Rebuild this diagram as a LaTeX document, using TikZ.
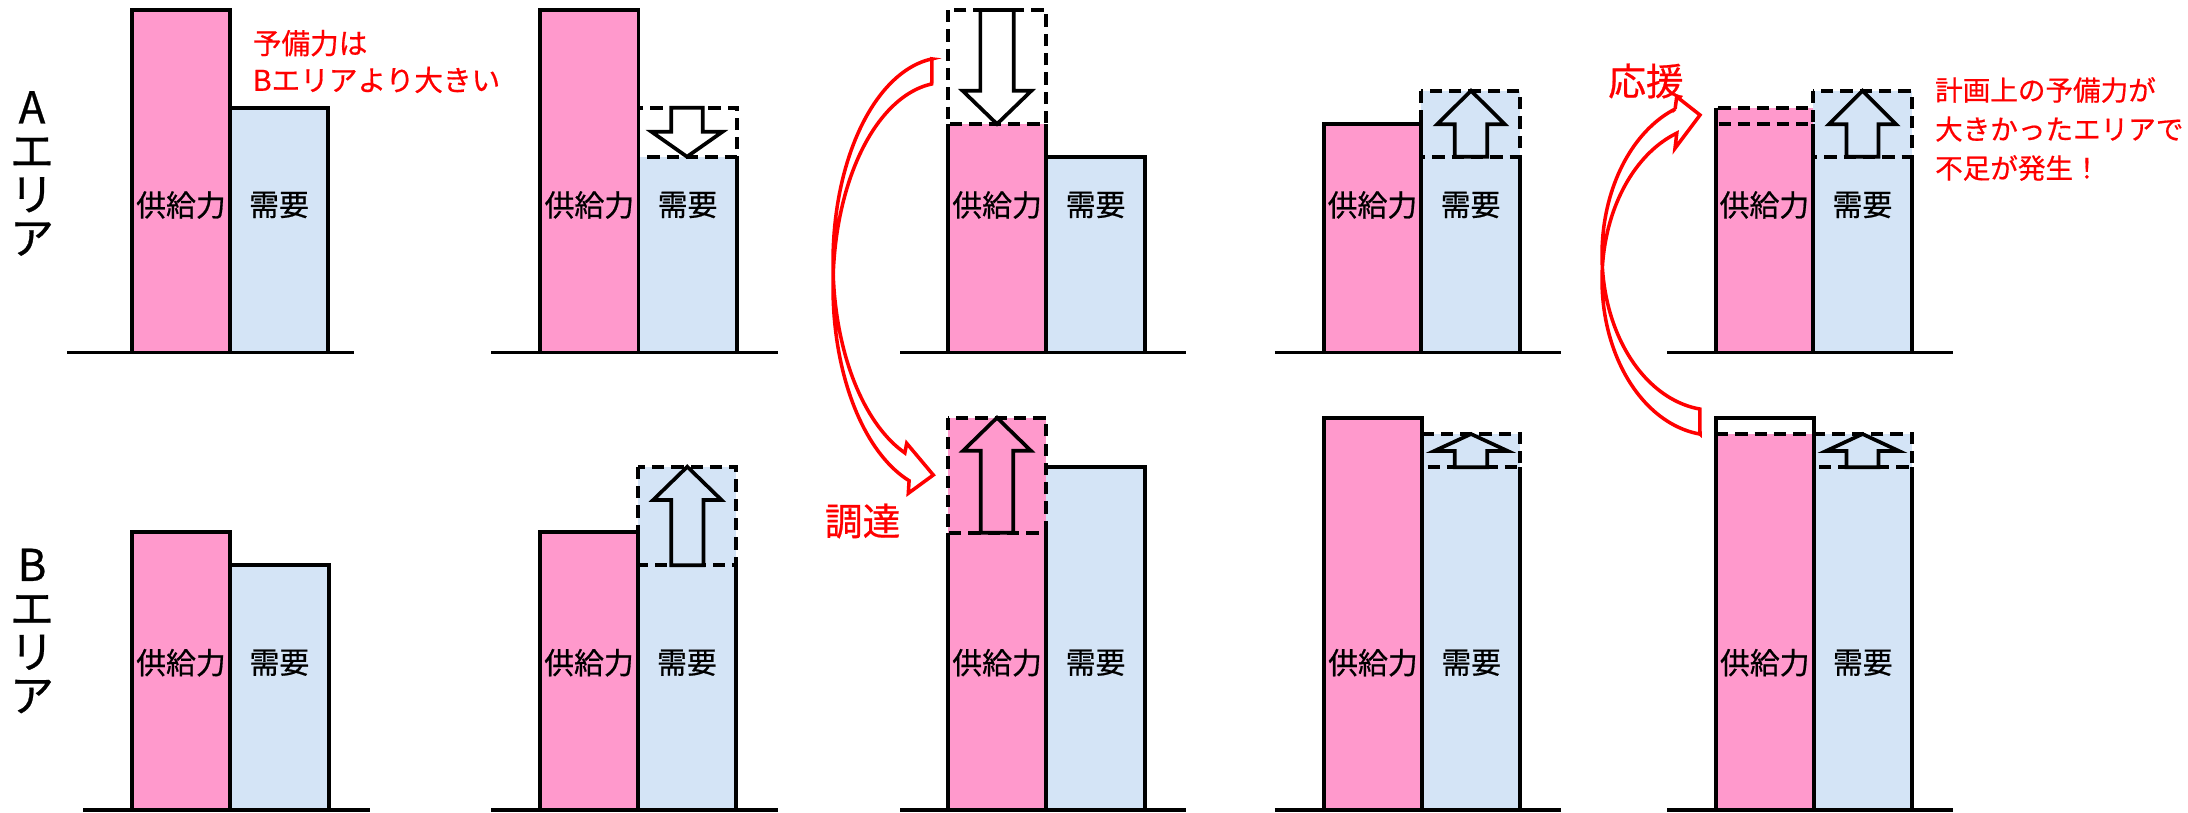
\documentclass[tikz,border=0pt]{standalone}
\usepackage{fontspec}
\newfontfamily\jp[FakeBold=0.6]{Noto Sans CJK JP}
\definecolor{pinkc}{RGB}{255,153,204}
\definecolor{bluec}{RGB}{212,228,246}
\newcommand{\blockarrow}[7]{%
  \draw[bar, fill=#1] ({#2-#3},#5) -- ({#2-#3},#6) -- ({#2-#4},#6) -- (#2,#7) -- ({#2+#4},#6) -- ({#2+#3},#6) -- ({#2+#3},#5) -- cycle;}
\tikzset{
  bar/.style={draw=black, line width=2.1pt, line join=miter},
  dbox/.style={draw=black, line width=2.1pt, dash pattern=on 7pt off 4pt},
  axisline/.style={draw=black, line width=2.1pt},
  barlbl/.style={font=\jp\fontsize{17pt}{20pt}\selectfont, inner sep=0pt},
  arealbl/.style={font=\jp\fontsize{25pt}{24.8pt}\selectfont, align=center, inner sep=0pt},
  rednote/.style={font=\jp\fontsize{16.3pt}{21pt}\selectfont, text=red, align=left, inner sep=0pt, anchor=west},
  rednoteb/.style={font=\jp\fontsize{15.7pt}{22.2pt}\selectfont, text=red, align=left, inner sep=0pt, anchor=west},
  redbig/.style={font=\jp\fontsize{21.5pt}{24pt}\selectfont, text=red, inner sep=0pt},
  redarrow/.style={draw=red, line width=2pt, line join=miter}
}
\begin{document}
\begin{tikzpicture}[x=0.02cm,y=-0.02cm]
\useasboundingbox (0,0) rectangle (2188,812);

% area labels
\node[arealbl] (areaA) at (32,173.5) {A\\エ\\リ\\ア};
\node[arealbl] (areaB) at (32,631) {B\\エ\\リ\\ア};

% ================= TOP ROW =================
% panel 1
\draw[axisline] (67,352.5) -- (353.6,352.5);
\draw[bar, fill=pinkc] (131.9,10) rectangle (230.1,352.5);
\draw[bar, fill=bluec] (230.1,107.7) rectangle (328,352.5);
\node[barlbl] (s1t) at (181,205) {供給力};
\node[barlbl] (d1t) at (279,205) {需要};
\node[rednote] (noteA) at (252.5,61.5) {予備力は\\Bエリアより大きい};

% panel 2
\draw[axisline] (491,352.5) -- (778,352.5);
\fill[bluec] (638.5,156.7) rectangle (736.8,352.5);
\draw[bar, fill=pinkc] (540.3,10) rectangle (638.5,352.5);
\draw[bar] (638.5,156.7) -- (638.5,352.5) -- (736.8,352.5) -- (736.8,156.7);
\draw[dbox] (638.5,107.7) rectangle (736.8,156.7);
\blockarrow{white}{687}{15.75}{35.6}{107.7}{131.7}{156.7}
\node[barlbl] (s2t) at (589.4,205) {供給力};
\node[barlbl] (d2t) at (687.6,205) {需要};

% panel 3
\draw[axisline] (900.3,352.5) -- (1185.8,352.5);
\fill[pinkc] (948.1,124) rectangle (1046.1,352.5);
\fill[bluec] (1046.1,156.7) rectangle (1145.2,352.5);
\draw[bar] (948.1,124) -- (948.1,352.5) -- (1046.1,352.5) -- (1046.1,124);
\draw[bar] (1046.1,156.7) rectangle (1145.2,352.5);
\draw[dbox] (948.1,10) rectangle (1046.1,124);
\blockarrow{white}{997}{16.65}{34.45}{10}{90.7}{124}
\node[barlbl] (s3t) at (997.1,205) {供給力};
\node[barlbl] (d3t) at (1095.6,205) {需要};

% panel 4
\draw[axisline] (1274.9,352.5) -- (1560.8,352.5);
\fill[bluec] (1421.1,90.7) rectangle (1520.2,352.5);
\draw[bar, fill=pinkc] (1323.9,124) rectangle (1421.1,352.5);
\draw[bar] (1421.1,156.7) -- (1421.1,352.5) -- (1520.2,352.5) -- (1520.2,156.7);
\draw[dbox] (1421.1,90.7) rectangle (1520.2,156.7);
\blockarrow{bluec}{1471}{16.3}{33.85}{156.7}{124.3}{90.7}
\node[barlbl] (s4t) at (1372.5,205) {供給力};
\node[barlbl] (d4t) at (1470.6,205) {需要};

% panel 5
\draw[axisline] (1667.2,352.5) -- (1952.7,352.5);
\fill[bluec] (1813,90.7) rectangle (1911.8,352.5);
\fill[pinkc] (1715.9,107.7) rectangle (1813,352.5);
\draw[bar] (1715.9,107.7) -- (1715.9,352.5) -- (1813,352.5) -- (1813,124.3);
\draw[bar] (1813,156.7) -- (1813,352.5) -- (1911.8,352.5) -- (1911.8,156.7);
\draw[dbox] (1715.9,107.7) rectangle (1813,124.3);
\draw[dbox] (1813,90.7) rectangle (1911.8,156.7);
\blockarrow{bluec}{1862.5}{16}{33.65}{156.7}{124.3}{90.7}
\node[barlbl] (s5t) at (1764.4,205) {供給力};
\node[barlbl] (d5t) at (1862.4,205) {需要};
\node[rednoteb] (noteB) at (1934.8,129) {計画上の予備力が\\大きかったエリアで\\不足が発生！};

% ================= BOTTOM ROW =================
% panel 1
\draw[axisline] (83.1,810) -- (370,810);
\draw[bar, fill=pinkc] (131.9,532) rectangle (230.1,810);
\draw[bar, fill=bluec] (230.1,565.3) rectangle (328.7,810);
\node[barlbl] (s1b) at (181,662.7) {供給力};
\node[barlbl] (d1b) at (279.4,662.7) {需要};

% panel 2
\draw[axisline] (491,810) -- (778,810);
\fill[bluec] (637.8,466.7) rectangle (736,810);
\draw[bar, fill=pinkc] (540.3,532) rectangle (637.8,810);
\draw[bar] (637.8,565.3) -- (637.8,810) -- (736,810) -- (736,565.3);
\draw[dbox] (637.8,466.7) rectangle (736,565.3);
\blockarrow{bluec}{687.3}{16.1}{34.2}{565.3}{500}{466.7}
\node[barlbl] (s2b) at (589,662.7) {供給力};
\node[barlbl] (d2b) at (686.9,662.7) {需要};

% panel 3
\draw[axisline] (900.3,810) -- (1185.8,810);
\fill[pinkc] (948.1,417.7) rectangle (1046.1,810);
\fill[bluec] (1046.1,467.3) rectangle (1145.2,810);
\draw[bar] (948.1,532.7) -- (948.1,810) -- (1046.1,810) -- (1046.1,532.7);
\draw[bar] (1046.1,467.3) -- (1145.2,467.3) -- (1145.2,810) -- (1046.1,810);
\draw[dbox] (948.1,417.7) rectangle (1046.1,532.7);
\blockarrow{pinkc}{997}{16.3}{33.85}{532.7}{450.7}{417.7}
\node[barlbl] (s3b) at (997.1,662.7) {供給力};
\node[barlbl] (d3b) at (1095.6,662.7) {需要};
\node[redbig] (chotatsu) at (862.6,521) {調達};

% panel 4
\draw[axisline] (1274.9,810) -- (1560.8,810);
\fill[bluec] (1422.2,434) rectangle (1520.2,810);
\draw[bar, fill=pinkc] (1323.9,417.7) rectangle (1422.2,810);
\draw[bar] (1422.2,467.3) -- (1422.2,810) -- (1520.2,810) -- (1520.2,467.3);
\draw[dbox] (1422.2,434) rectangle (1520.2,467.3);
\blockarrow{bluec}{1471}{16.3}{36.75}{467.3}{451}{434}
\node[barlbl] (s4b) at (1373,662.7) {供給力};
\node[barlbl] (d4b) at (1471.2,662.7) {需要};

% panel 5
\draw[axisline] (1667.2,810) -- (1952.7,810);
\fill[bluec] (1813.7,434) rectangle (1911.8,810);
\fill[pinkc] (1715.9,434.3) rectangle (1813.7,810);
\draw[bar] (1715.9,417.7) rectangle (1813.7,810);
\draw[dbox] (1715.9,434.3) -- (1813.7,434.3);
\draw[bar] (1813.7,467.3) -- (1813.7,810) -- (1911.8,810) -- (1911.8,467.3);
\draw[dbox] (1813.7,434) rectangle (1911.8,467.3);
\blockarrow{bluec}{1862.5}{16}{36.5}{467.3}{451}{434}
\node[barlbl] (s5b) at (1764.8,662.7) {供給力};
\node[barlbl] (d5b) at (1862.8,662.7) {需要};

% ================= RED CURVED ARROWS =================
% 調達 : from A (top) down to B
\draw[redarrow] (931.9,58.9)
  -- plot[domain=0:1, samples=80] ({945+112*cos(263.3-152.4*\x)},{262+204.5*sin(263.3-152.4*\x)})
  -- (906.7,443.3) -- (933.3,475) -- (908.3,493.3) -- (909.1,480.7)
  -- plot[domain=0:1, samples=80] ({945+112*cos(108.7+154.6*\x)},{287+204.5*sin(108.7+154.6*\x)})
  -- cycle;
% 応援 : from B (bottom) up to A
\draw[redarrow] (1700,434.1)
  -- plot[domain=0:1, samples=80] ({1714+112*cos(97.2+153.5*\x)},{279.8+155.5*sin(97.2+153.5*\x)})
  -- (1675,148.3) -- (1700,115) -- (1676.7,96.7) -- (1675.1,109)
  -- plot[domain=0:1, samples=80] ({1714+112*cos(249.7-152.5*\x)},{254.8+155.5*sin(249.7-152.5*\x)})
  -- cycle;
\node[redbig] (ouen) at (1646,81) {応援};

\end{tikzpicture}
\end{document}
